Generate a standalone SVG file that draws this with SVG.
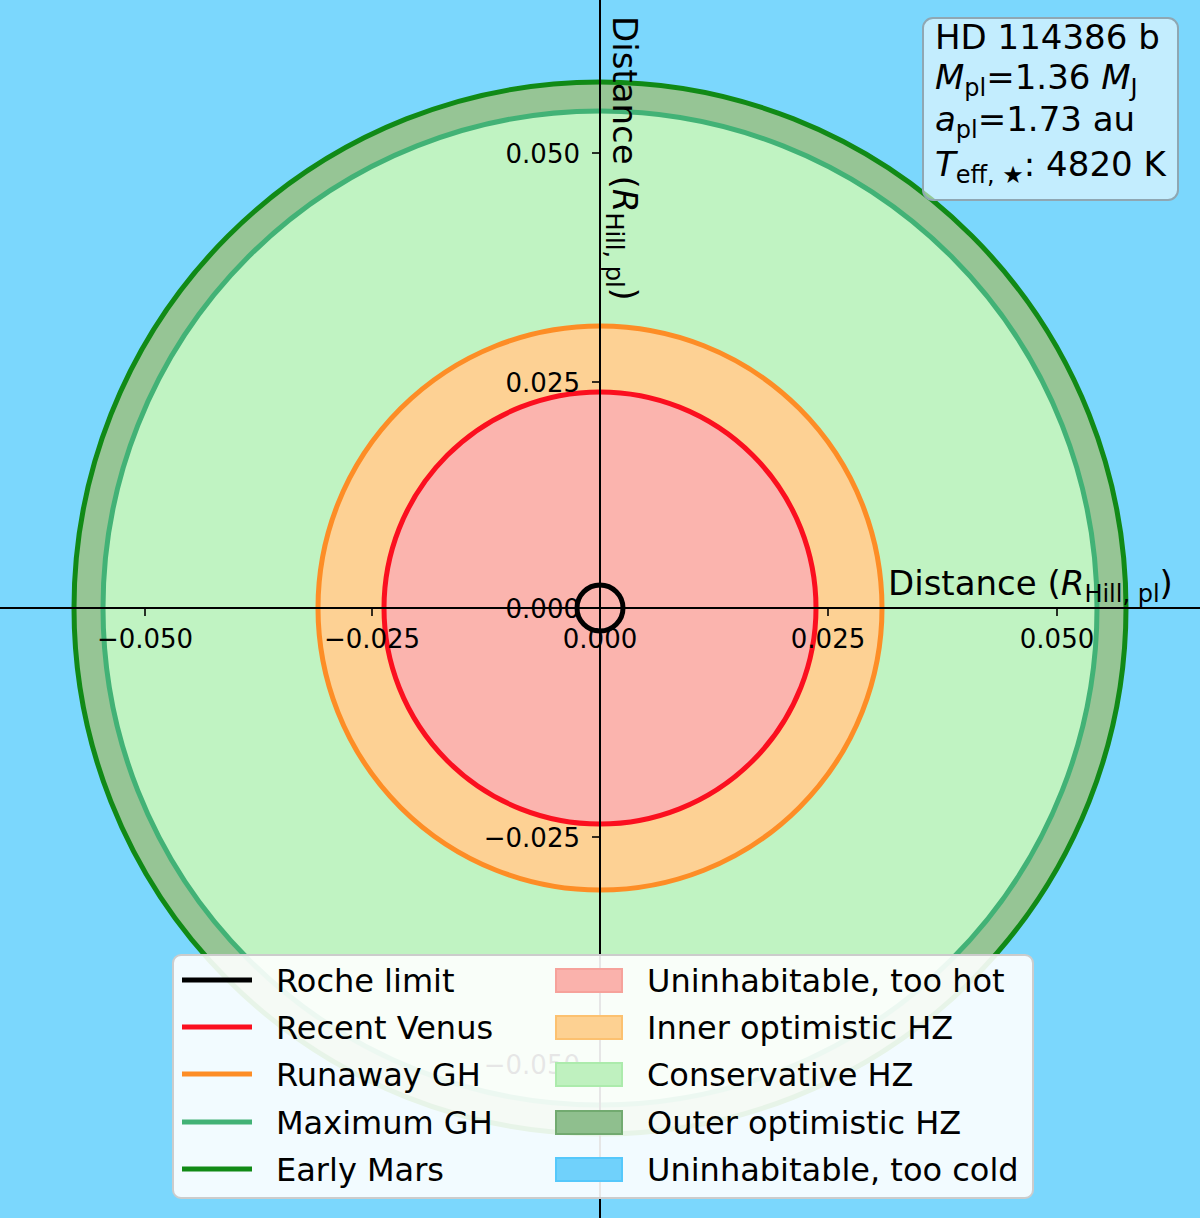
<svg xmlns="http://www.w3.org/2000/svg" width="1200" height="1218" viewBox="0 0 1200 1218">
<style>
text{font-family:"DejaVu Sans","Liberation Sans",sans-serif;fill:#000}
.tick{font-size:26px}
.lab{font-size:34px}
.leg{font-size:32px}
.box{font-size:34px}
.it{font-style:italic}
.ring{fill:none;stroke-width:5}
.ax{stroke:#000;stroke-width:2}
.tk{stroke:#000;stroke-width:1.6}
</style>
<rect x="0" y="0" width="1200" height="1218" fill="#7bd7fd"/>
<g id="zones">
<circle cx="600" cy="608" r="526" fill="#96c595"/>
<circle cx="600" cy="608" r="497" fill="#c0f3c2"/>
<circle cx="600" cy="608" r="282" fill="#fdd194"/>
<circle cx="600" cy="608" r="216" fill="#fbb4ae"/>
</g>
<g id="rings">
<circle class="ring" cx="600" cy="608" r="526" stroke="#118a16"/>
<circle class="ring" cx="600" cy="608" r="497" stroke="#42b276"/>
<circle class="ring" cx="600" cy="608" r="282" stroke="#fd8d26"/>
<circle class="ring" cx="600" cy="608" r="216" stroke="#fb0f1f"/>
<circle class="ring" cx="600" cy="608" r="23" stroke="#000" stroke-width="4.5"/>
</g>
<g id="axes">
<line class="ax" x1="0" y1="608" x2="1200" y2="608"/>
<line class="ax" x1="600" y1="0" x2="600" y2="1218"/>
<g id="xticks">
<line class="tk" x1="145" y1="608" x2="145" y2="616"/>
<line class="tk" x1="372" y1="608" x2="372" y2="616"/>
<line class="tk" x1="600" y1="608" x2="600" y2="616"/>
<line class="tk" x1="828" y1="608" x2="828" y2="616"/>
<line class="tk" x1="1057" y1="608" x2="1057" y2="616"/>
<text class="tick" x="145" y="648" text-anchor="middle">−0.050</text>
<text class="tick" x="372" y="648" text-anchor="middle">−0.025</text>
<text class="tick" x="600" y="648" text-anchor="middle">0.000</text>
<text class="tick" x="828" y="648" text-anchor="middle">0.025</text>
<text class="tick" x="1057" y="648" text-anchor="middle">0.050</text>
</g>
<g id="yticks">
<line class="tk" x1="592" y1="153" x2="600" y2="153"/>
<line class="tk" x1="592" y1="382" x2="600" y2="382"/>
<line class="tk" x1="592" y1="608" x2="600" y2="608"/>
<line class="tk" x1="592" y1="837" x2="600" y2="837"/>
<line class="tk" x1="592" y1="1064" x2="600" y2="1064"/>
<text class="tick" x="580" y="163" text-anchor="end">0.050</text>
<text class="tick" x="580" y="392" text-anchor="end">0.025</text>
<text class="tick" x="580" y="618" text-anchor="end">0.000</text>
<text class="tick" x="580" y="847" text-anchor="end">−0.025</text>
<text class="tick" x="580" y="1074" text-anchor="end">−0.050</text>
</g>
<text class="lab" x="888" y="595">Distance (<tspan class="it">R</tspan><tspan font-size="24" dy="7">Hill, pl</tspan><tspan dy="-7">)</tspan></text>
<text class="lab" transform="translate(613,16) rotate(90)" x="0" y="0">Distance (<tspan class="it">R</tspan><tspan font-size="24" dy="7">Hill, pl</tspan><tspan dy="-7">)</tspan></text>
</g>
<g id="infobox">
<rect x="923" y="18" width="255" height="182" rx="10" fill="#ffffff" fill-opacity="0.55" stroke="#8fa7b3" stroke-width="2"/>
<text class="box" x="935" y="49">HD 114386 b</text>
<text class="box" x="935" y="89"><tspan class="it">M</tspan><tspan font-size="24" dy="7">pl</tspan><tspan dy="-7">=1.36 </tspan><tspan class="it">M</tspan><tspan font-size="24" dy="7">J</tspan></text>
<text class="box" x="935" y="131"><tspan class="it">a</tspan><tspan font-size="24" dy="7">pl</tspan><tspan dy="-7">=1.73 au</tspan></text>
<text class="box" x="935" y="176"><tspan class="it">T</tspan><tspan font-size="24" dy="7">eff, ★</tspan><tspan dy="-7">: 4820 K</tspan></text>
</g>
<g id="legend">
<rect x="173" y="955" width="860" height="243" rx="8" fill="#ffffff" fill-opacity="0.9" stroke="#cccccc" stroke-width="2"/>
<g stroke-width="5">
<line x1="182" y1="980" x2="252" y2="980" stroke="#000"/>
<line x1="182" y1="1027" x2="252" y2="1027" stroke="#fb0f1f"/>
<line x1="182" y1="1074" x2="252" y2="1074" stroke="#fd8d26"/>
<line x1="182" y1="1122" x2="252" y2="1122" stroke="#42b276"/>
<line x1="182" y1="1169" x2="252" y2="1169" stroke="#118a16"/>
</g>
<text class="leg" x="276" y="992">Roche limit</text>
<text class="leg" x="276" y="1039">Recent Venus</text>
<text class="leg" x="276" y="1086">Runaway GH</text>
<text class="leg" x="276" y="1134">Maximum GH</text>
<text class="leg" x="276" y="1181">Early Mars</text>
<g stroke-width="2">
<rect x="556" y="969" width="66" height="23" fill="#fab2ac" stroke="#f6a29b"/>
<rect x="556" y="1016" width="66" height="23" fill="#fdd192" stroke="#fcc170"/>
<rect x="556" y="1063" width="66" height="23" fill="#bff1bf" stroke="#acebac"/>
<rect x="556" y="1111" width="66" height="23" fill="#8fbf8e" stroke="#72aa70"/>
<rect x="556" y="1158" width="66" height="23" fill="#70d1fb" stroke="#55c8fb"/>
</g>
<text class="leg" x="647" y="992">Uninhabitable, too hot</text>
<text class="leg" x="647" y="1039">Inner optimistic HZ</text>
<text class="leg" x="647" y="1086">Conservative HZ</text>
<text class="leg" x="647" y="1134">Outer optimistic HZ</text>
<text class="leg" x="647" y="1181">Uninhabitable, too cold</text>
</g>
</svg>
